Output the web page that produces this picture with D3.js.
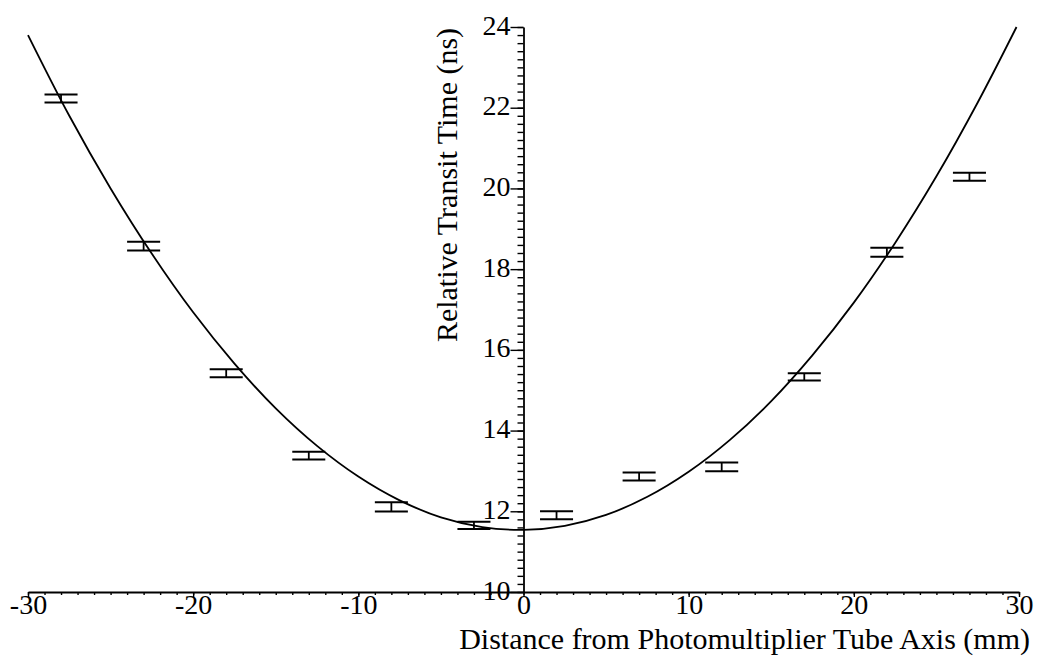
<!DOCTYPE html>
<html>
<head>
<meta charset="utf-8">
<script src="https://cdn.jsdelivr.net/npm/d3@7/dist/d3.min.js"></script>
<style>
  html, body { margin: 0; padding: 0; background: #fff; }
  svg { display: block; }
  text { font-family: "Liberation Serif", "Times New Roman", serif; fill: #000; }
</style>
</head>
<body>
<svg id="chart" width="1039" height="657"></svg>
<script>
// ---- data ----
const pointX   = [-28, -23, -18, -13, -8, -3, 2, 7, 12, 17, 22, 27];
const pointY   = [22.23, 18.57, 15.42, 13.38, 12.11, 11.65, 11.90, 12.86, 13.10, 15.33, 18.42, 20.29];
const pointErr = [0.10, 0.11, 0.10, 0.095, 0.115, 0.09, 0.10, 0.10, 0.11, 0.09, 0.11, 0.10];

// fitted curve
const curveX = [-30, -27.5, -25, -22.5, -20, -17.5, -15, -12.5, -10, -7.5, -5, -2.5, 0,
                2.5, 5, 7.5, 10, 12.5, 15, 17.5, 20, 22.5, 25, 27.5, 29.85];
const curveY = [23.8, 21.80, 20.00, 18.38, 16.93, 15.66, 14.55, 13.62, 12.86, 12.27, 11.85, 11.61, 11.54,
                11.64, 11.91, 12.36, 12.98, 13.77, 14.73, 15.87, 17.17, 18.65, 20.30, 22.13, 24.0];

const xTickValues = [-30, -20, -10, 0, 10, 20, 30];
const yTickValues = [10, 12, 14, 16, 18, 20, 22, 24];
const xTitle = "Distance from Photomultiplier Tube Axis (mm)";
const yTitle = "Relative Transit Time (ns)";

// ---- layout ----
const svg = d3.select("#chart");
const x = d3.scaleLinear().domain([-30, 30]).range([28, 1019]);
const y = d3.scaleLinear().domain([10, 24]).range([592, 27]);
const tickFont = 28;
const titleFont = 30;

// minor ticks
const xMinor = d3.range(-30, 30.001, 1);
const yMinor = d3.range(10, 24.001, 0.2);

// x axis (drawn along y = 10)
const gx = svg.append("g").attr("transform", `translate(0,${y(10)})`);
gx.call(d3.axisBottom(x).tickValues(xMinor).tickSize(3).tickFormat(""));
gx.select(".domain").remove();
gx.selectAll(".tick line").attr("stroke", "#000").attr("stroke-width", 1.4);
const gx2 = svg.append("g").attr("transform", `translate(0,${y(10)})`);
gx2.call(d3.axisBottom(x).tickValues(xTickValues).tickSize(5).tickSizeOuter(0)
  .tickFormat(d => d3.format("d")(d).replace("−", "-")));
gx2.select(".domain").attr("stroke", "#000").attr("stroke-width", 1.8);
gx2.selectAll(".tick line").attr("stroke", "#000").attr("stroke-width", 1.4);
gx2.selectAll(".tick text")
  .attr("font-size", tickFont)
  .attr("font-family", "Liberation Serif")
  .attr("y", 0).attr("dy", 22);

// y axis (drawn along x = 0)
const gy = svg.append("g").attr("transform", `translate(${x(0)},0)`);
gy.call(d3.axisLeft(y).tickValues(yMinor).tickSize(6).tickFormat(""));
gy.select(".domain").remove();
gy.selectAll(".tick line").attr("stroke", "#000").attr("stroke-width", 1.4);
const gy2 = svg.append("g").attr("transform", `translate(${x(0)},0)`);
gy2.call(d3.axisLeft(y).tickValues(yTickValues).tickSize(13).tickSizeOuter(0).tickFormat(d3.format("d")));
gy2.select(".domain").attr("stroke", "#000").attr("stroke-width", 1.8);
gy2.selectAll(".tick line").attr("stroke", "#000").attr("stroke-width", 1.4);
gy2.selectAll(".tick text")
  .attr("font-size", tickFont)
  .attr("font-family", "Liberation Serif")
  .attr("x", -13).attr("dy", 7);

// fitted curve
const line = d3.line().x(d => x(d[0])).y(d => y(d[1])).curve(d3.curveCatmullRom);
svg.append("path")
  .datum(curveX.map((v, i) => [v, curveY[i]]))
  .attr("d", line)
  .attr("fill", "none")
  .attr("stroke", "#000")
  .attr("stroke-width", 1.8);

// error bars
const pts = pointX.map((v, i) => ({ x: v, y: pointY[i], e: pointErr[i] }));
const eb = svg.append("g").selectAll("g").data(pts).join("g");
eb.append("line")
  .attr("x1", d => x(d.x)).attr("x2", d => x(d.x))
  .attr("y1", d => y(d.y + d.e)).attr("y2", d => y(d.y - d.e))
  .attr("stroke", "#000").attr("stroke-width", 1.8);
eb.append("line")
  .attr("x1", d => x(d.x - 1)).attr("x2", d => x(d.x + 1))
  .attr("y1", d => y(d.y + d.e)).attr("y2", d => y(d.y + d.e))
  .attr("stroke", "#000").attr("stroke-width", 2);
eb.append("line")
  .attr("x1", d => x(d.x - 1)).attr("x2", d => x(d.x + 1))
  .attr("y1", d => y(d.y - d.e)).attr("y2", d => y(d.y - d.e))
  .attr("stroke", "#000").attr("stroke-width", 2);

// titles
svg.append("text")
  .attr("x", 1030).attr("y", 649)
  .attr("text-anchor", "end")
  .attr("font-size", titleFont)
  .text(xTitle);
svg.append("text")
  .attr("transform", `translate(457,185) rotate(-90)`)
  .attr("text-anchor", "middle")
  .attr("font-size", titleFont)
  .text(yTitle);
</script>
</body>
</html>
